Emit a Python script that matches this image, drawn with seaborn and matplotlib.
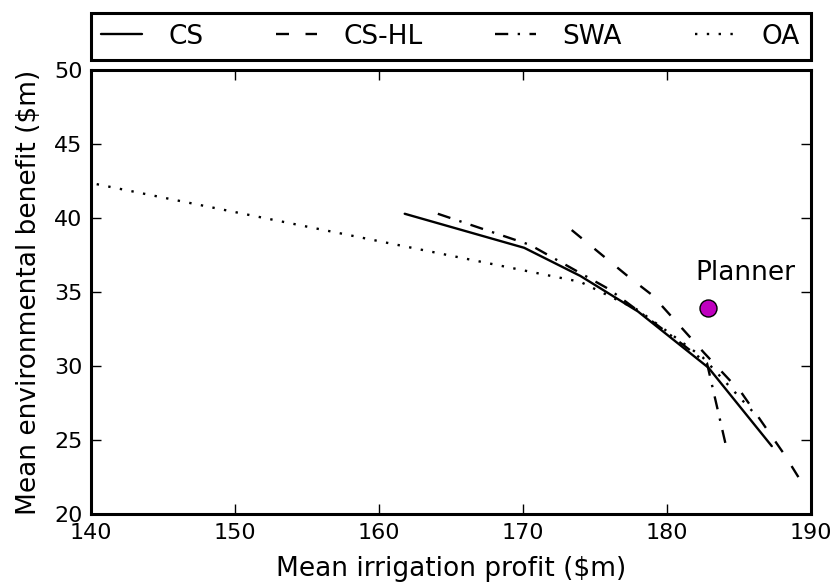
import matplotlib
matplotlib.use("Agg")
import matplotlib.pyplot as plt
import seaborn as sns
import pandas as pd

# Pareto fronts of mean irrigation profit vs mean environmental benefit ($m)
cs_x = [161.8, 170.1, 174.0, 178.0, 182.9, 187.3]
cs_y = [40.3, 38.0, 36.1, 33.7, 29.9, 24.6]

cshl_x = [173.4, 177.4, 179.0, 182.6, 185.2, 188.2, 189.6]
cshl_y = [39.2, 36.0, 34.8, 30.9, 28.2, 24.0, 21.8]

swa_x = [164.1, 170.5, 176.0, 180.0, 182.8, 184.1]
swa_y = [40.3, 38.2, 35.2, 32.3, 30.2, 24.7]

oa_x = [140.4, 162.3, 174.0, 178.0, 182.5, 186.2]
oa_y = [42.3, 38.0, 35.7, 33.8, 30.6, 26.7]

planner_x = [182.9]
planner_y = [33.9]
planner_label = "Planner"

series = {"CS": (cs_x, cs_y), "CS-HL": (cshl_x, cshl_y),
          "SWA": (swa_x, swa_y), "OA": (oa_x, oa_y)}
order = list(series)

frames = []
for name in order:
    xs, ys = series[name]
    frames.append(pd.DataFrame({"profit": xs, "benefit": ys, "Strategy": name}))
df = pd.concat(frames, ignore_index=True)

sns.set_style("ticks")
plt.rcParams["font.family"] = ["DejaVu Sans"]
plt.rcParams.update({"text.color": "k", "axes.labelcolor": "k",
                     "xtick.color": "k", "ytick.color": "k",
                     "axes.edgecolor": "k"})

fig = plt.figure(figsize=(8.34, 5.85), dpi=100)
ax = fig.add_axes([0.109, 0.121, 0.863, 0.759])

dash_map = {"CS": "", "CS-HL": (5.5, 7), "SWA": (5.6, 4, 1, 4), "OA": (1, 4)}
sns.lineplot(data=df, x="profit", y="benefit", style="Strategy",
             style_order=order, dashes=dash_map, color="k", lw=1.7,
             sort=False, estimator=None, ax=ax, legend=True)

sns.scatterplot(x=planner_x, y=planner_y, color="#bf00bf", edgecolor="k",
                linewidth=1, s=150, zorder=5, ax=ax, legend=False)
ax.text(185.5, 36.3, planner_label, ha="center", va="center", fontsize=19)

ax.set_xlim(140, 190)
ax.set_ylim(20, 50)
ax.set_xticks(range(140, 191, 10))
ax.set_yticks(range(20, 51, 5))
ax.set_xlabel("Mean irrigation profit ($m)", fontsize=19, labelpad=10)
ax.set_ylabel("Mean environmental benefit ($m)", fontsize=19, labelpad=9)
ax.tick_params(direction="in", length=7, width=1, labelsize=16,
               top=True, right=True, pad=6)
for sp in ax.spines.values():
    sp.set_visible(True)
    sp.set_linewidth(2.2)

handles, labels = ax.get_legend_handles_labels()
leg = ax.legend(handles, labels, loc="lower left",
                bbox_to_anchor=(0.0, 1.0225, 1.0, 0.1), mode="expand",
                ncol=4, borderaxespad=0, fontsize=19, frameon=True,
                fancybox=False, edgecolor="k", framealpha=1,
                handlelength=1.55, handletextpad=1.0, borderpad=0.4)
leg.get_frame().set_linewidth(2.2)
for line in leg.get_lines():
    line.set_linewidth(1.7)

fig.savefig("out.png", dpi=100)
